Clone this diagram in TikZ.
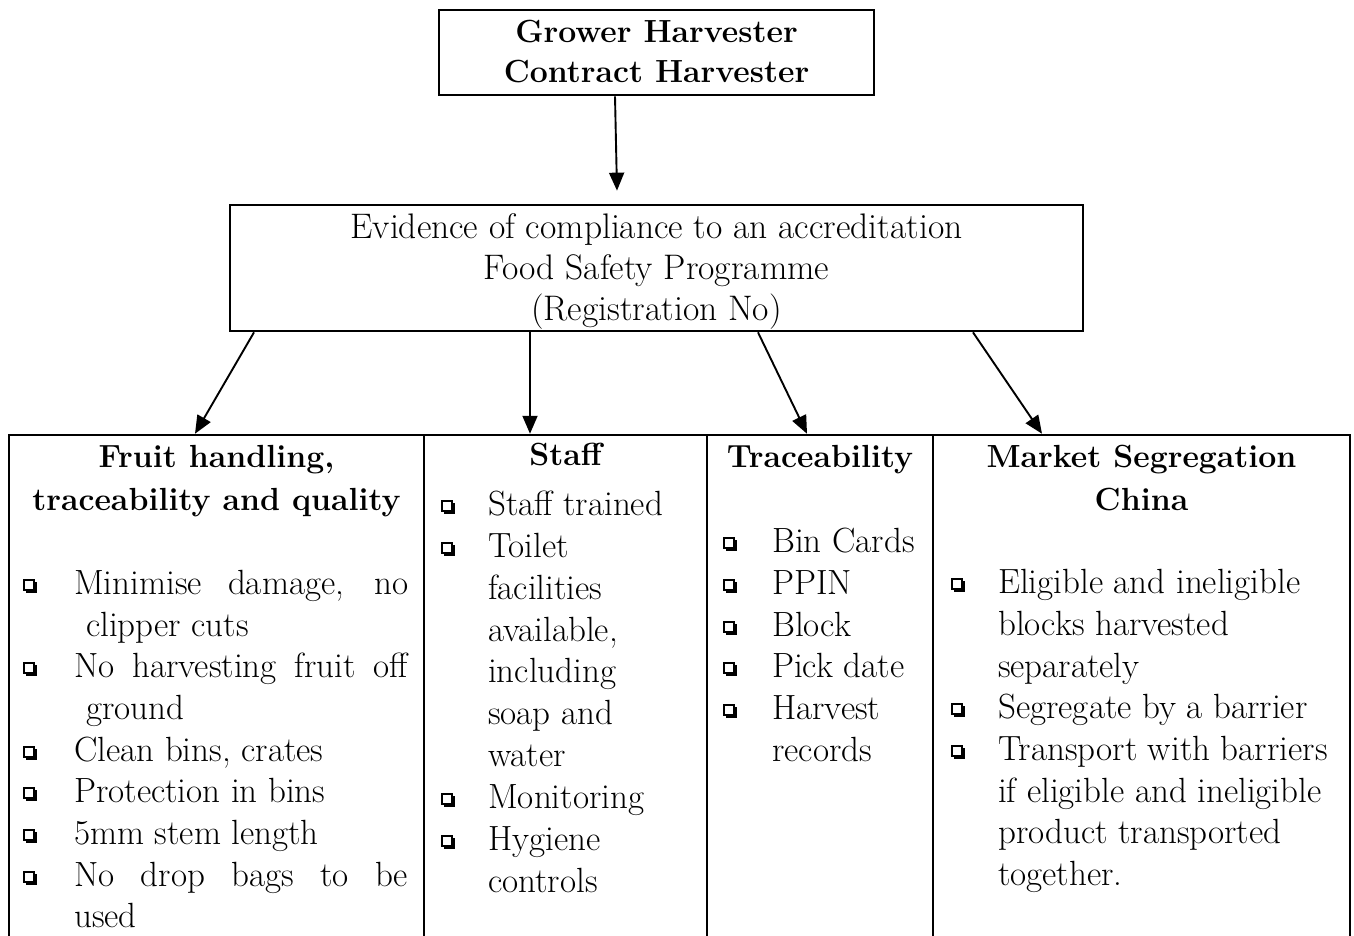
\documentclass[tikz,border=0pt]{standalone}
\usepackage{fontspec}
\usetikzlibrary{arrows.meta}
\begin{document}
\begin{tikzpicture}[x=1pt,y=-1pt,
  box/.style={draw, line width=2.7pt, rectangle, inner sep=0pt},
  col/.style={draw, line width=2.5pt, rectangle, inner sep=0pt, minimum height=540pt},
  txt/.style={anchor=base west, inner sep=0pt, font=\fontsize{35}{42}\selectfont},
  ctxt/.style={anchor=base, inner sep=0pt, font=\fontsize{35.5}{42}\selectfont},
  head/.style={anchor=base, inner sep=0pt, font=\fontsize{32}{42}\selectfont\bfseries},
  link/.style={line width=1.9pt, -{Triangle[length=18pt,width=15pt]}},
  qbox/.pic={
    \fill (2,2) rectangle (12.5,12.5);
    \filldraw[fill=white, line width=1.3pt] (0,0) rectangle (10,10);
  }]
\useasboundingbox (0,0) rectangle (1354,936);

% top box
\node[box, minimum width=435pt, minimum height=85pt] (top) at (656.5,52.5) {};
\node[head] (topa) at (656.5,43) {Grower Harvester};
\node[head] (topb) at (656.5,83) {Contract Harvester};

% middle box
\node[box, minimum width=853pt, minimum height=126pt] (mid) at (656.5,268) {};
\node[ctxt] (mida) at (656.5,238) {Evidence of compliance to an accreditation};
\node[ctxt] (midb) at (656.5,279) {Food Safety Programme};
\node[ctxt] (midc) at (656.5,320) {(Registration No)};

% columns of the table (bottom edge runs off the page)
\node[col, minimum width=415pt] (c1) at (216.5,705) {};
\node[col, minimum width=283pt] (c2) at (565.5,705) {};
\node[col, minimum width=226pt] (c3) at (820,705) {};
\node[col, minimum width=417pt] (c4) at (1141.5,705) {};

% connectors
\draw[link] ([xshift=-41.5pt]top.south) -- ([xshift=-39.5pt,yshift=13pt]mid.north);
\draw[link] ([xshift=-402.5pt]mid.south) -- ([xshift=-21.5pt]c1.north);
\draw[link] ([xshift=-126.5pt]mid.south) -- ([xshift=-35.5pt]c2.north);
\draw[link] ([xshift=101.5pt]mid.south) -- ([xshift=-13pt]c3.north);
\draw[link] ([xshift=316.5pt]mid.south) -- ([xshift=-99.5pt]c4.north);

% column headings
\node[head] (h1a) at (216.5,467) {Fruit handling,};
\node[head] (h1b) at (216.5,510) {traceability and quality};
\node[head] (h2) at (565.5,465) {Staff};
\node[head] (h3) at (820,467) {Traceability};
\node[head] (h4a) at (1141.5,467) {Market Segregation};
\node[head] (h4b) at (1141.5,510) {China};

% column 1 items
\foreach \y/\x/\t/\b [count=\i] in {
  594/74/{\makebox[334pt][s]{Minimise damage, no}}/1,
  636/86/{clipper cuts}/0,
  677/74/{\makebox[334pt][s]{No harvesting fruit off}}/1,
  719/86/{ground}/0,
  761/74/{Clean bins, crates}/1,
  802/74/{Protection in bins}/1,
  844/74/{5mm stem length}/1,
  886/74/{\makebox[334pt][s]{No drop bags to be}}/1,
  927/74/{used}/0}{
  \node[txt] (ia\i) at (\x,\y) {\t};
  \ifnum\b=1 \pic at (24,\y-14) {qbox}; \fi
}

% column 2 items
\foreach \y/\t/\b [count=\i] in {
  515/{Staff trained}/1,
  557/{Toilet}/1,
  599/{facilities}/0,
  641/{available,}/0,
  682/{including}/0,
  724/{soap and}/0,
  766/{water}/0,
  808/{Monitoring}/1,
  850/{Hygiene}/1,
  892/{controls}/0}{
  \node[txt] (ib\i) at (488,\y) {\t};
  \ifnum\b=1 \pic at (442,\y-14) {qbox}; \fi
}

% column 3 items
\foreach \y/\t/\b [count=\i] in {
  552/{Bin Cards}/1,
  594/{PPIN}/1,
  636/{Block}/1,
  677/{Pick date}/1,
  719/{Harvest}/1,
  761/{records}/0}{
  \node[txt] (ic\i) at (772,\y) {\t};
  \ifnum\b=1 \pic at (724,\y-14) {qbox}; \fi
}

% column 4 items
\foreach \y/\t/\b [count=\i] in {
  593/{Eligible and ineligible}/1,
  635/{blocks harvested}/0,
  677/{separately}/0,
  718/{Segregate by a barrier}/1,
  760/{Transport with barriers}/1,
  802/{if eligible and ineligible}/0,
  843/{product transported}/0,
  885/{together.}/0}{
  \node[txt] (id\i) at (998,\y) {\t};
  \ifnum\b=1 \pic at (952,\y-14) {qbox}; \fi
}
\end{tikzpicture}
\end{document}
